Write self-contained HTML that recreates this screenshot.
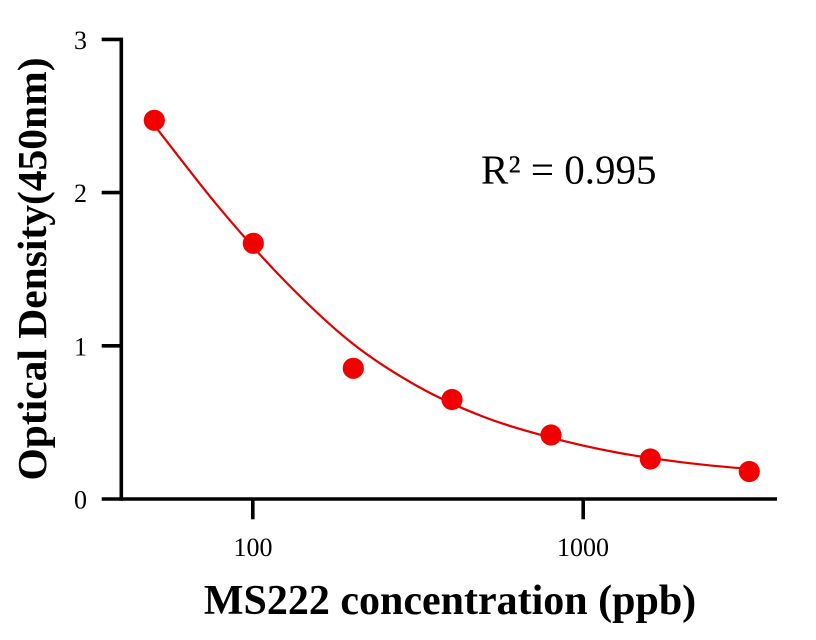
<!DOCTYPE html>
<html>
<head>
<meta charset="utf-8">
<style>
  html, body { margin: 0; padding: 0; background: #ffffff; }
  svg { display: block; }
  text { font-family: "Liberation Serif", "Times New Roman", serif; fill: #000; }
</style>
</head>
<body>
<svg width="816" height="640" viewBox="0 0 816 640" xmlns="http://www.w3.org/2000/svg">
  <rect x="0" y="0" width="816" height="640" fill="#ffffff"/>

  <!-- fitted curve -->
  <path d="M153.35,124.0
           C175.49,152.34 197.62,181.92 219.76,208.33
           C241.79,234.61 263.81,259.55 285.84,282.0
           C307.87,304.45 329.89,325.57 351.92,343.0
           C373.95,360.43 395.97,374.16 418.0,386.5
           C440.03,398.84 462.05,408.52 484.08,417.0
           C506.11,425.48 528.13,431.48 550.16,437.38
           C572.19,443.28 594.21,448.21 616.24,452.37
           C638.27,456.53 660.29,459.57 682.32,462.30
           C704.9,465.1 727.47,467.16 750.05,468.92"
        fill="none" stroke="#e00000" stroke-width="2.2"/>

  <!-- data points -->
  <g fill="#f20000">
    <circle cx="154.3" cy="120.3" r="10.6"/>
    <circle cx="253.3" cy="243.3" r="10.6"/>
    <circle cx="353.3" cy="368.3" r="10.6"/>
    <circle cx="452.0" cy="399.5" r="10.6"/>
    <circle cx="551.0" cy="435.0" r="10.6"/>
    <circle cx="650.3" cy="459.0" r="10.6"/>
    <circle cx="749.3" cy="471.5" r="10.6"/>
  </g>

  <!-- axes -->
  <g stroke="#000" stroke-width="3.6" fill="none">
    <line x1="121.3" y1="37.6" x2="121.3" y2="500.8"/>
    <line x1="101.7" y1="499" x2="777" y2="499"/>
    <!-- y ticks -->
    <line x1="101.7" y1="39.4" x2="121.3" y2="39.4"/>
    <line x1="101.7" y1="192.6" x2="121.3" y2="192.6"/>
    <line x1="101.7" y1="345.8" x2="121.3" y2="345.8"/>
    <!-- x ticks -->
    <line x1="252.8" y1="499" x2="252.8" y2="519.3"/>
    <line x1="583.2" y1="499" x2="583.2" y2="519.3"/>
  </g>

  <!-- y tick labels -->
  <g font-size="26" text-anchor="end">
    <text x="87" y="48.9">3</text>
    <text x="87" y="202.1">2</text>
    <text x="87" y="355.3">1</text>
    <text x="87" y="508.5">0</text>
  </g>

  <!-- x tick labels -->
  <g font-size="26" text-anchor="middle">
    <text x="253" y="556">100</text>
    <text x="583" y="556">1000</text>
  </g>

  <!-- R squared -->
  <text x="481" y="183.5" font-size="41">R² = 0.995</text>

  <!-- axis titles -->
  <text x="450" y="614" font-size="42" font-weight="bold" text-anchor="middle">MS222 concentration (ppb)</text>
  <text transform="translate(46,269) rotate(-90)" font-size="41.5" font-weight="bold" text-anchor="middle">Optical Density(450nm)</text>
</svg>
</body>
</html>
